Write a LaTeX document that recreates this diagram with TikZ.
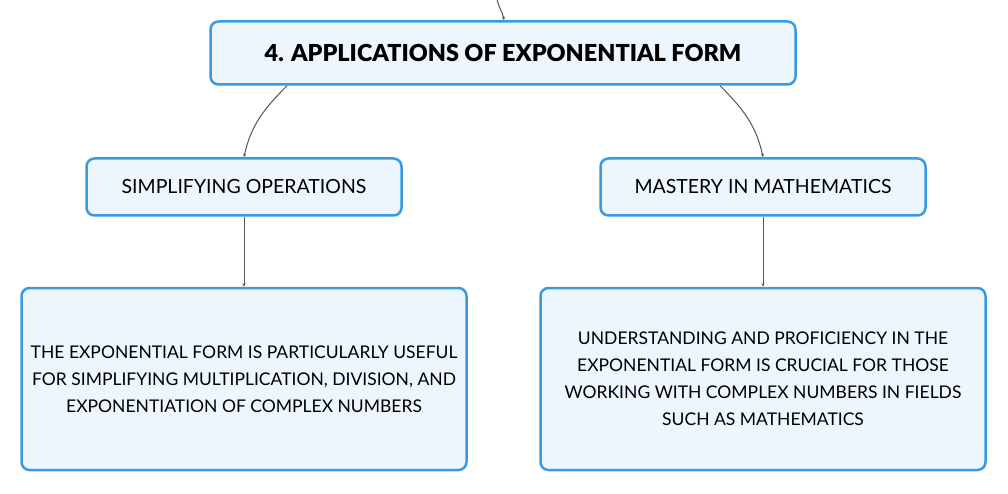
\documentclass[tikz,border=0pt]{standalone}
\usepackage{fontspec}
\setmainfont{Lato}[BoldFont={Lato Black}]
\usepackage{xcolor}
\usetikzlibrary{arrows.meta, positioning}

\definecolor{boxblue}{HTML}{3A9AE0}
\definecolor{boxfill}{HTML}{EEF6FD}
\definecolor{linkgray}{HTML}{555555}

\begin{document}
\begin{tikzpicture}[
			x=1pt, y=-1pt,
			node distance=70pt and 0pt,
			every node/.style={draw=boxblue, line width=2.5pt, fill=boxfill, rounded corners=8pt, align=center, text=black, inner sep=0pt},
			topic/.style={minimum width=585pt, minimum height=63pt, font=\fontsize{23.4}{27}\selectfont\bfseries},
			subtopic/.style={minimum width=315pt, minimum height=57pt, font=\fontsize{19.5}{22}\selectfont},
			leaf/.style={minimum width=445pt, minimum height=182pt, font=\fontsize{17.5}{27}\selectfont},
			link/.style={-{Stealth[length=3.5pt, width=3pt]}, draw=linkgray, line width=1pt}
			]
			\useasboundingbox (0,0) rectangle (1008,494);
			
			% Nodes
			\node (apps) [topic] at (503,53) {4. APPLICATIONS OF EXPONENTIAL FORM};
			\node (simplify) [subtopic] at (244,187) {SIMPLIFYING OPERATIONS};
			\node (mastery) [subtopic, minimum width=325pt] at (763,187) {MASTERY IN MATHEMATICS};
			\node (simplify_text) [leaf, below=of simplify] {THE EXPONENTIAL FORM IS PARTICULARLY USEFUL\\FOR SIMPLIFYING MULTIPLICATION, DIVISION, AND\\EXPONENTIATION OF COMPLEX NUMBERS};
			\node (mastery_text) [leaf, below=of mastery] {UNDERSTANDING AND PROFICIENCY IN THE\\EXPONENTIAL FORM IS CRUCIAL FOR THOSE\\WORKING WITH COMPLEX NUMBERS IN FIELDS\\SUCH AS MATHEMATICS};
			\coordinate (parent) at (497,-1);
			
			% Connections
			\draw [link] (parent) to[out=-80, in=100] ([xshift=1pt]apps.north);
			\draw [link] ([xshift=-216pt]apps.south) to[out=-135, in=78] (simplify.north);
			\draw [link] ([xshift=217pt]apps.south) to[out=-45, in=102] (mastery.north);
			\draw [link] (simplify) -- (simplify_text);
			\draw [link] (mastery) -- (mastery_text);
			
		\end{tikzpicture}
\end{document}
